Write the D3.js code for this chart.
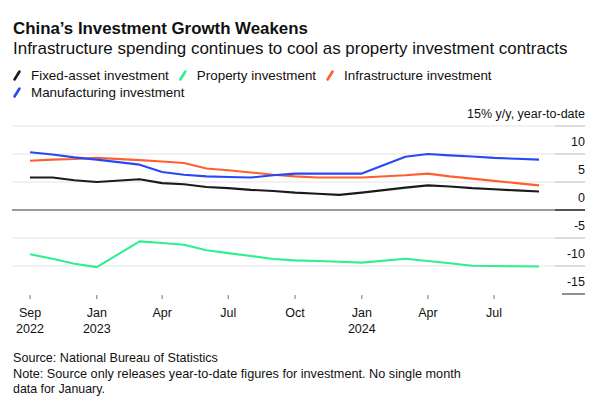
<!DOCTYPE html>
<html><head><meta charset="utf-8">
<script src="https://cdn.jsdelivr.net/npm/d3@7"></script>
<style>
body{margin:0;background:#fff}
svg{display:block}
text{font-family:"Liberation Sans",Arial,Helvetica,sans-serif;fill:#111}
</style>
</head><body>
<svg id="chart" width="600" height="407"></svg>
<script>
// ---------------- data ----------------
const months = ["2022-09","2022-10","2022-11","2022-12","2023-02","2023-03","2023-04","2023-05","2023-06","2023-07","2023-08","2023-09","2023-10","2023-11","2023-12","2024-02","2024-03","2024-04","2024-05","2024-06","2024-07","2024-08"];
const fixedAsset     = [5.8,5.8,5.3,5.0,5.5,4.8,4.6,4.1,3.9,3.6,3.4,3.1,2.9,2.7,3.1,4.0,4.4,4.2,3.9,3.7,3.5,3.3];
const property       = [-7.9,-8.7,-9.6,-10.2,-5.6,-5.9,-6.2,-7.2,-7.7,-8.2,-8.75,-9.0,-9.1,-9.25,-9.4,-8.7,-9.1,-9.5,-9.95,-10.0,-10.05,-10.1];
const infrastructure = [8.8,9.0,9.1,9.3,8.9,8.65,8.4,7.4,7.1,6.7,6.3,6.0,5.8,5.8,5.8,6.2,6.5,6.0,5.6,5.2,4.8,4.4];
const manufacturing  = [10.3,9.9,9.4,9.0,8.1,6.8,6.3,6.0,5.9,5.8,6.2,6.5,6.5,6.5,6.5,9.5,10.0,9.75,9.55,9.3,9.15,9.0];

const seriesNames  = ["Fixed-asset investment","Property investment","Infrastructure investment","Manufacturing investment"];
const seriesColors = ["#1b1b1b","#2ef08c","#ff5f2e","#2848f5"];

const yTicks = [-15,-10,-5,0,5,10,15];
const yTickLabels = ["-15","-10","-5","0","5","10","15% y/y, year-to-date"];

const xTickMonths = ["2022-09","2022-12","2023-03","2023-06","2023-09","2023-12","2024-03","2024-06"]; // month-end positions
const xTickLabels = ["Sep","Jan","Apr","Jul","Oct","Jan","Apr","Jul"];
const xTickYears  = ["2022","2023","","","","2024","",""];

const title = "China\u2019s Investment Growth Weakens";
const subtitle = "Infrastructure spending continues to cool as property investment contracts";
const footer = ["Source: National Bureau of Statistics",
  "Note: Source only releases year-to-date figures for investment. No single month",
  "data for January."];

// ---------------- helpers ----------------
// year-to-date figures are plotted at month end
const monthEnd = s => { const [y,m] = s.split("-").map(Number); return new Date(y, m, 1); };
function fit(sel, w){
  const fs = parseFloat(sel.attr("font-size"));
  const len = sel.node().getComputedTextLength();
  sel.attr("font-size", (fs*w/len).toFixed(2));
}

const svg = d3.select("#chart");

// ---------------- scales ----------------
const x = d3.scaleTime()
  .domain([monthEnd(months[0]), monthEnd(months[months.length-1])])
  .range([30, 539]);
const y = d3.scaleLinear().domain([-15, 15]).range([294, 126]);

const gridLeft = 12, tickLeft = 555, axisRight = 585;

// ---------------- titles ----------------
const t = svg.append("text").attr("x",13).attr("y",34).attr("font-size",16)
  .attr("font-weight","bold").text(title);
fit(t, 295);
const st = svg.append("text").attr("x",13).attr("y",54).attr("font-size",16).text(subtitle);
fit(st, 555);

// ---------------- legend ----------------
const legendRows = [[0,1,2],[3]];
const probe = svg.append("text").attr("font-size",13).text(seriesNames[0]);
fit(probe, 138);
const legendFs = probe.attr("font-size");
probe.remove();
legendRows.forEach((row, ri) => {
  let cx = 13;
  const base = 80 + ri*17;
  row.forEach(i => {
    svg.append("line")
      .attr("x1", cx+1.5).attr("y1", base-0.5)
      .attr("x2", cx+6.5).attr("y2", base-8.5)
      .attr("stroke", seriesColors[i]).attr("stroke-width", 2.6)
      .attr("stroke-linecap","round");
    const tx = svg.append("text").attr("x", cx+18).attr("y", base)
      .attr("font-size", legendFs).text(seriesNames[i]);
    cx = cx + 18 + tx.node().getComputedTextLength() + 10;
  });
});

// ---------------- y grid & axis ----------------
const g = svg.append("g");
yTicks.forEach((v, i) => {
  const yy = y(v);
  if (v === 0) {
    g.append("line").attr("x1",gridLeft).attr("x2",tickLeft).attr("y1",yy).attr("y2",yy)
      .attr("stroke","#7a7a7a").attr("stroke-width",1.5);
    g.append("line").attr("x1",tickLeft).attr("x2",axisRight).attr("y1",yy).attr("y2",yy)
      .attr("stroke","#1a1a1a").attr("stroke-width",1.5);
  } else if (v === -15) {
    g.append("line").attr("x1",562).attr("x2",axisRight).attr("y1",yy).attr("y2",yy)
      .attr("stroke","#555").attr("stroke-width",1.3);
  } else {
    g.append("line").attr("x1",gridLeft).attr("x2",tickLeft).attr("y1",yy).attr("y2",yy)
      .attr("stroke","#e6e6e6").attr("stroke-width",1.2);
    g.append("line").attr("x1",tickLeft).attr("x2",axisRight).attr("y1",yy).attr("y2",yy)
      .attr("stroke","#c4c4c4").attr("stroke-width",1.2);
  }
  g.append("text").attr("x",axisRight).attr("y",yy-8).attr("text-anchor","end")
    .attr("font-size",12.5).attr("fill","#222").text(yTickLabels[i]);
});

// ---------------- x axis ----------------
xTickMonths.forEach((m, i) => {
  const xx = x(monthEnd(m));
  g.append("line").attr("x1",xx).attr("x2",xx).attr("y1",295).attr("y2",299)
    .attr("stroke","#777").attr("stroke-width",1);
  g.append("text").attr("x",xx).attr("y",317).attr("text-anchor","middle")
    .attr("font-size",12.5).attr("fill","#222").text(xTickLabels[i]);
  if (xTickYears[i]) g.append("text").attr("x",xx).attr("y",333).attr("text-anchor","middle")
    .attr("font-size",12.5).attr("fill","#222").text(xTickYears[i]);
});

// ---------------- lines ----------------
const allSeries = [fixedAsset, property, infrastructure, manufacturing];
const line = d3.line().x(d => x(d.date)).y(d => y(d.v));
allSeries.forEach((vals, si) => {
  const pts = months.map((m, i) => ({date: monthEnd(m), v: vals[i]}));
  svg.append("path").datum(pts).attr("d", line)
    .attr("fill","none").attr("stroke", seriesColors[si]).attr("stroke-width",2.1)
    .attr("stroke-linejoin","round").attr("stroke-linecap","butt");
});

// ---------------- footer ----------------
const footerWidths = [205, 448, 92];
footer.forEach((s, i) => {
  const ft = svg.append("text").attr("x",13).attr("y",362 + i*15.5).attr("font-size",12).text(s);
  fit(ft, footerWidths[i]);
});
</script>
</body></html>
